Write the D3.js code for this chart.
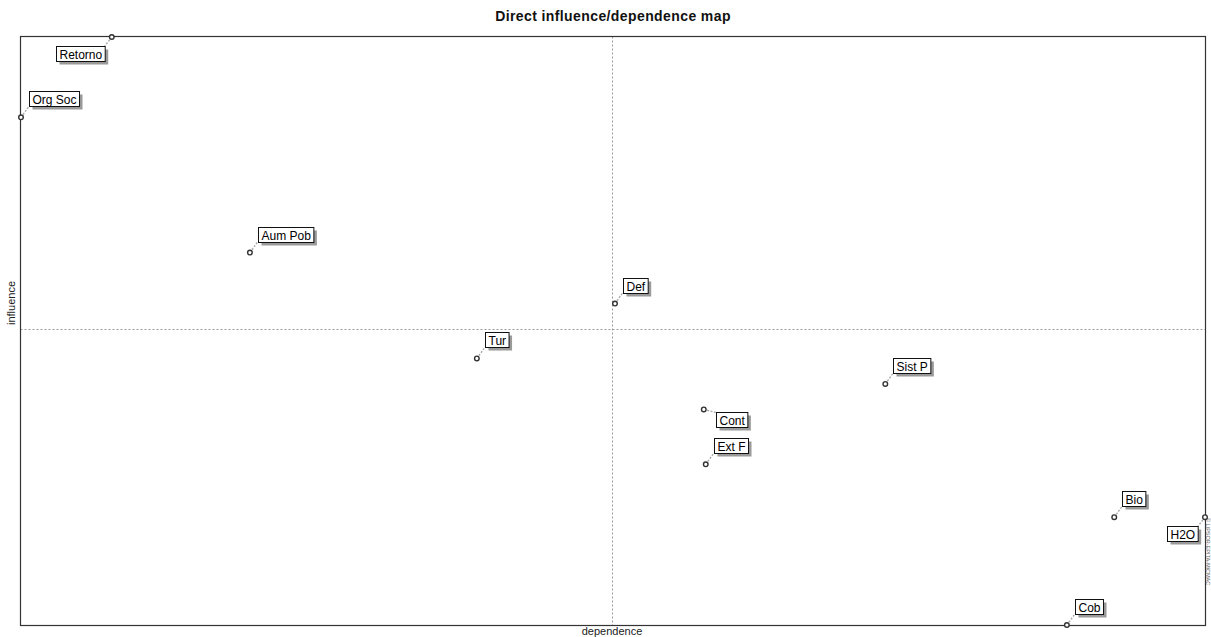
<!DOCTYPE html>
<html>
<head>
<meta charset="utf-8">
<script src="https://cdn.jsdelivr.net/npm/d3@7"></script>
<style>
  html, body { margin: 0; padding: 0; background: #fff; }
  svg { display: block; }
</style>
</head>
<body>
<svg id="chart" width="1211" height="637"></svg>
<script>
// Variables of the structural analysis
const variables = ["Retorno", "Org Soc", "Aum Pob", "Def", "Tur", "Sist P", "Cont", "Ext F", "Bio", "H2O", "Cob"];
// Direct dependence (x) and direct influence (y) of each variable
const dependence = [5.3, 3.0, 8.8, 18.05, 14.55, 24.9, 20.3, 20.35, 30.7, 33.0, 29.5];
const influence  = [34.0, 29.9, 23.0, 20.4, 17.6, 16.3, 15.0, 12.2, 9.5, 9.5, 4.0];
// Average dependence / influence (quadrant separators)
const meanDependence = 17.98;
const meanInfluence = 19.1;

const title = "Direct influence/dependence map";
const xTitle = "dependence";
const yTitle = "influence";
const credit = "© LIPSOR-EPITA-MICMAC";

const svg = d3.select("#chart");
const frame = { left: 20.5, right: 1205.5, top: 36.5, bottom: 625.5 };

const x = d3.scaleLinear()
  .domain(d3.extent(dependence))
  .range([frame.left + 0.5, frame.right - 0.5]);
const y = d3.scaleLinear()
  .domain(d3.extent(influence))
  .range([frame.bottom - 0.5, frame.top + 0.5]);

const font = "'Liberation Sans', Arial, sans-serif";

// Title
svg.append("text")
  .attr("x", 613).attr("y", 21)
  .attr("text-anchor", "middle")
  .attr("font-family", font)
  .attr("font-weight", "bold")
  .attr("font-size", 14)
  .attr("letter-spacing", 0.4)
  .attr("fill", "#111")
  .text(title);

// Quadrant separators
svg.append("line")
  .attr("x1", Math.round(x(meanDependence)) + 0.5).attr("x2", Math.round(x(meanDependence)) + 0.5)
  .attr("y1", frame.top).attr("y2", frame.bottom)
  .attr("stroke", "#9a9a9a").attr("stroke-dasharray", "2,2");
svg.append("line")
  .attr("x1", frame.left).attr("x2", frame.right)
  .attr("y1", Math.round(y(meanInfluence)) + 0.5).attr("y2", Math.round(y(meanInfluence)) + 0.5)
  .attr("stroke", "#9a9a9a").attr("stroke-dasharray", "2,2");

// Plot frame
svg.append("rect")
  .attr("x", frame.left).attr("y", frame.top)
  .attr("width", frame.right - frame.left).attr("height", frame.bottom - frame.top)
  .attr("fill", "none").attr("stroke", "#333").attr("stroke-width", 1.2);

// Axis titles
svg.append("text")
  .attr("x", 612).attr("y", 635)
  .attr("text-anchor", "middle")
  .attr("font-family", font).attr("font-size", 11).attr("fill", "#222")
  .text(xTitle);
svg.append("text")
  .attr("transform", "translate(15,303) rotate(-90)")
  .attr("text-anchor", "middle")
  .attr("font-family", font).attr("font-size", 11).attr("fill", "#222")
  .text(yTitle);

// Credit along the right edge
svg.append("text")
  .attr("transform", "translate(1206,518) rotate(90)")
  .attr("font-family", font).attr("font-size", 5.5).attr("fill", "#666")
  .text(credit);

// Label placement relative to each marker: ne = above-right, sw = below-left, se = below-right
const placement = { "Retorno": "sw", "H2O": "sw", "Cont": "se" };

const points = variables.map((name, i) => ({
  name, dep: dependence[i], inf: influence[i],
  px: x(dependence[i]), py: y(influence[i])
}));

const g = svg.append("g");
const boxH = 15, padX = 3;

points.forEach(p => {
  const t = g.append("text")
    .attr("font-family", font).attr("font-size", 12).attr("fill", "#000")
    .text(p.name);
  const w = t.node().getComputedTextLength() + padX * 2;
  const side = placement[p.name] || "ne";
  let bx, by, cx, cy;
  if (side === "ne") { bx = p.px + 8; by = p.py - 11 - boxH; cx = bx; cy = by + boxH; }
  else if (side === "sw") { bx = p.px - 7 - w; by = p.py + 9; cx = bx + w; cy = by; }
  else { bx = p.px + 12; by = p.py + 3; cx = bx; cy = by; }
  bx = Math.round(bx) + 0.5; by = Math.round(by) + 0.5;

  // leader line from marker to the label box
  g.insert("line", "text")
    .attr("x1", p.px).attr("y1", p.py).attr("x2", cx).attr("y2", cy)
    .attr("stroke", "#aaa").attr("stroke-width", 1.4).attr("stroke-dasharray", "2,1.5");
  // box shadow
  g.insert("rect", "text")
    .attr("x", bx + 3).attr("y", by + 3).attr("width", w).attr("height", boxH)
    .attr("fill", "#9a9a9a");
  // box
  g.insert("rect", "text")
    .attr("x", bx).attr("y", by).attr("width", w).attr("height", boxH)
    .attr("fill", "#fff").attr("stroke", "#111").attr("stroke-width", 1);
  t.attr("x", bx + padX).attr("y", by + 12);
  t.raise();
  // marker
  g.append("circle")
    .attr("cx", p.px).attr("cy", p.py).attr("r", 2.3)
    .attr("fill", "#fff").attr("stroke", "#333").attr("stroke-width", 1.4);
});
</script>
</body>
</html>
